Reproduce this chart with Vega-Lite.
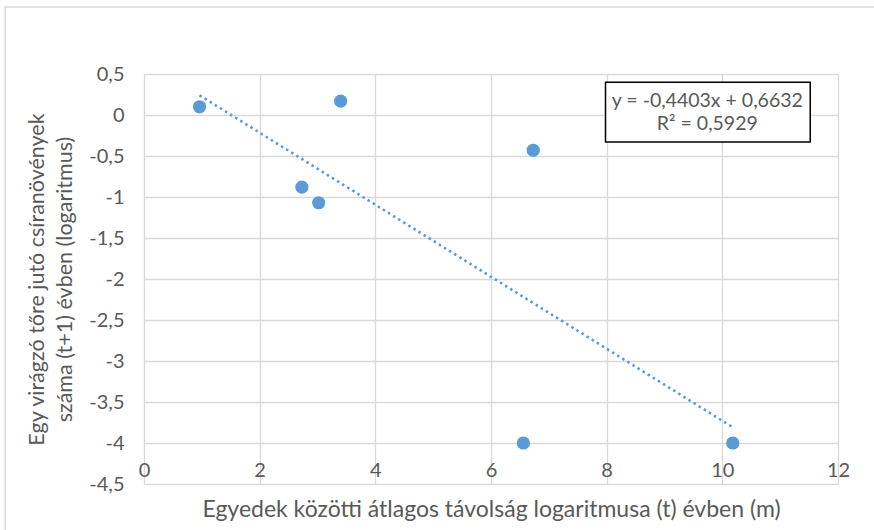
{
  "$schema": "https://vega.github.io/schema/vega-lite/v6.json",
  "autosize": "none",
  "width": 694,
  "height": 410,
  "padding": {"left": 144, "top": 74, "right": 36, "bottom": 46},
  "background": "white",
  "config": {
    "view": {"stroke": null},
    "font": "Lato",
    "axis": {
      "gridColor": "#d9d9d9",
      "gridWidth": 1.3,
      "domain": false,
      "ticks": false,
      "tickSize": 0,
      "labelColor": "#595959",
      "labelFont": "Lato",
      "labelFontSize": 20,
      "labelFlush": false,
      "labelOverlap": false,
      "titleColor": "#595959",
      "titleFont": "Lato",
      "titleFontWeight": "normal"
    }
  },
  "datasets": {
    "points": [
      {"tavolsag": 0.96, "csiranoveny": 0.10},
      {"tavolsag": 3.40, "csiranoveny": 0.17},
      {"tavolsag": 2.73, "csiranoveny": -0.88},
      {"tavolsag": 3.02, "csiranoveny": -1.07},
      {"tavolsag": 6.73, "csiranoveny": -0.43},
      {"tavolsag": 6.56, "csiranoveny": -4.0},
      {"tavolsag": 10.18, "csiranoveny": -4.0}
    ],
    "egyenlet": [
      {"sor1": "y = -0,4403x + 0,6632", "sor2": "R² = 0,5929"}
    ]
  },
  "layer": [
    {
      "data": {"name": "egyenlet"},
      "mark": {"type": "rect", "fill": null, "stroke": "#d9d9d9", "strokeWidth": 1.5, "clip": false},
      "encoding": {
        "x": {"datum": -2.4, "type": "quantitative", "scale": {"domain": [0, 12], "nice": false, "zero": false}},
        "x2": {"datum": 14.5},
        "y": {"datum": 1.317, "type": "quantitative", "scale": {"domain": [-4.5, 0.5], "nice": false, "zero": false}},
        "y2": {"datum": -6}
      }
    },
    {
      "data": {"name": "points"},
      "transform": [{"regression": "csiranoveny", "on": "tavolsag"}],
      "mark": {"type": "line", "color": "#5B9BD5", "strokeWidth": 2.6, "strokeDash": [2.5, 3.5]},
      "encoding": {
        "x": {"field": "tavolsag", "type": "quantitative"},
        "y": {"field": "csiranoveny", "type": "quantitative"}
      }
    },
    {
      "data": {"name": "points"},
      "mark": {"type": "circle", "color": "#5B9BD5", "opacity": 1, "size": 175},
      "encoding": {
        "x": {
          "field": "tavolsag",
          "type": "quantitative",
          "scale": {"domain": [0, 12], "nice": false, "zero": false},
          "axis": {
            "values": [0, 2, 4, 6, 8, 10, 12],
            "grid": true,
            "labelExpr": "toString(datum.value)",
            "labelBaseline": "middle",
            "labelPadding": -14,
            "titlePadding": 14,
            "titleFontSize": 23,
            "title": "Egyedek közötti átlagos távolság logaritmusa (t) évben (m)"
          }
        },
        "y": {
          "field": "csiranoveny",
          "type": "quantitative",
          "scale": {"domain": [-4.5, 0.5], "nice": false, "zero": false},
          "axis": {
            "values": [-4.5, -4, -3.5, -3, -2.5, -2, -1.5, -1, -0.5, 0, 0.5],
            "grid": true,
            "labelExpr": "replace(toString(datum.value), '.', ',')",
            "labelPadding": 20,
            "titlePadding": 12,
            "titleFontSize": 21.5,
            "titleLineHeight": 28,
            "title": ["Egy virágzó tőre jutó csíranövények", "száma (t+1) évben (logaritmus)"]
          }
        }
      }
    },
    {
      "data": {"name": "egyenlet"},
      "mark": {"type": "rect", "fill": "white", "stroke": "black", "strokeWidth": 1.5},
      "encoding": {
        "x": {"datum": 7.98, "type": "quantitative"},
        "x2": {"datum": 11.52},
        "y": {"datum": 0.40, "type": "quantitative"},
        "y2": {"datum": -0.33}
      }
    },
    {
      "data": {"name": "egyenlet"},
      "mark": {"type": "text", "color": "#595959", "fontSize": 19.5, "font": "Lato", "align": "center", "baseline": "middle"},
      "encoding": {
        "x": {"datum": 9.74, "type": "quantitative"},
        "y": {"datum": 0.174, "type": "quantitative"},
        "text": {"field": "sor1"}
      }
    },
    {
      "data": {"name": "egyenlet"},
      "mark": {"type": "text", "color": "#595959", "fontSize": 19.5, "font": "Lato", "align": "center", "baseline": "middle"},
      "encoding": {
        "x": {"datum": 9.74, "type": "quantitative"},
        "y": {"datum": -0.113, "type": "quantitative"},
        "text": {"field": "sor2"}
      }
    }
  ]
}
